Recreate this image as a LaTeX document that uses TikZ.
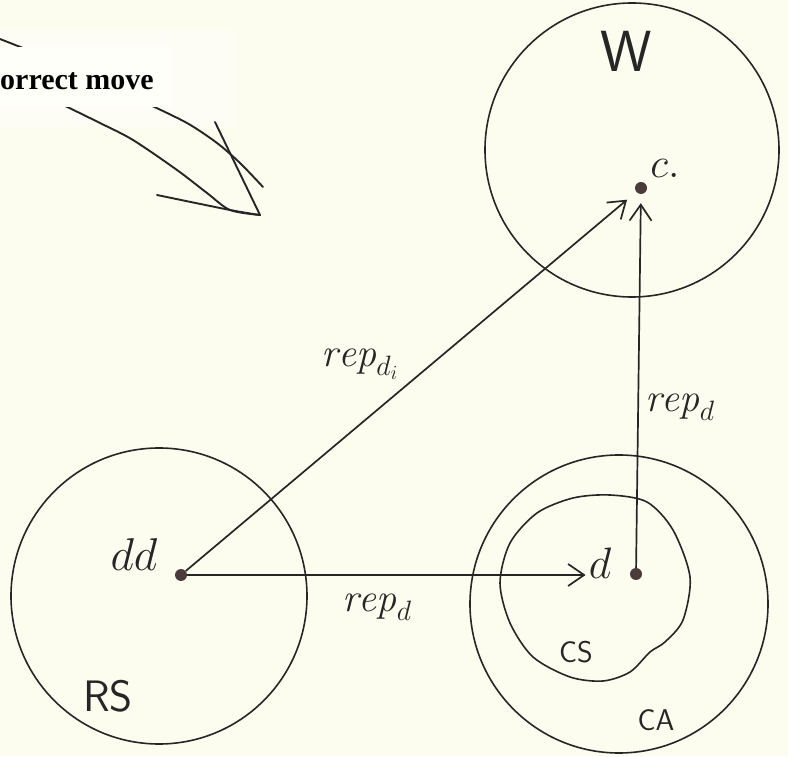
\documentclass[tikz,border=0pt]{standalone}
\usepackage{fix-cm}
\usepackage{fontspec}
\usetikzlibrary{arrows.meta}
\newfontfamily\slipfont{Liberation Serif}
\definecolor{cPaper}{HTML}{FCFCEF}
\definecolor{cPale}{HTML}{FDFDF5}
\definecolor{cSlip}{HTML}{FFFFFA}
\definecolor{cInk}{HTML}{262626}
\definecolor{cDot}{HTML}{4B3C3C}
\newcommand{\handsize}[1]{\fontsize{#1}{#1}\selectfont}

\begin{document}
\begin{tikzpicture}[x=1pt, y=1pt,
  region/.style={draw=cInk, line width=1.6pt, circle, inner sep=0pt},
  spot/.style={circle, fill=cDot, inner sep=0pt, minimum size=12pt},
  hand/.style={text=cInk, inner sep=3pt},
  caps/.style={hand, font={\sffamily\handsize{#1}}},
  rep/.style={draw=cInk, line width=1.7pt, -{Straight Barb[length=16pt, width=22pt]}},
  sketch/.style={draw=cInk, line width=1.9pt, line cap=round, line join=round}]
\useasboundingbox (0,0) rectangle (788,756);
\fill[cPaper] (0,0) rectangle (788,756);
\fill[cPale] (0,629) rectangle (235,726);
% ---- the hand-drawn arrow, partly under the pasted slip ----------------------------
\draw[sketch] (0,717) -- (28,706);
\draw[sketch] plot[smooth] coordinates {(55,655) (100,633) (133,616) (177,586) (207,563) (230,546) (260,541)};
\draw[sketch] plot[smooth] coordinates {(148,652) (187,633) (217,613) (240,593) (263,569)};
\draw[sketch] plot[smooth] coordinates {(157,561) (230,546) (260,541)};
\draw[sketch] (215,634) -- (260,541);
\fill[cSlip] (0,649) rectangle (172,709);
\node[anchor=base west, inner sep=0pt, font={\slipfont\bfseries\handsize{30}}] (move) at (0,666) {orrect move};
% ---- the regions -----------------------------------------------------------------------
\node[region, minimum size=294pt] (world) at (632,606) {};
\node[region, minimum size=296pt] (rs) at (159,160) {};
\node[region, minimum size=298pt] (ca) at (619,152) {};
\draw[draw=cInk, line width=1.6pt] plot[smooth cycle] coordinates {(610,261) (647,254) (673,226) (690,179) (683,136) (665,114) (650,104) (630,84) (603,75) (570,79) (533,99) (510,133) (500,173) (510,213) (537,243) (573,258)};
% ---- the points and their names -------------------------------------------------------
\node[spot] (dd) at (181,181) {};
\node[spot] (d) at (636,182) {};
\node[spot] (c) at (641,568) {};
\node[hand, font=\handsize{46}] (ddlab) at (134,201) {$dd$};
\node[hand, font=\handsize{44}] (dlab) at (600,193) {$d$};
\node[hand, font=\handsize{42}] (clab) at (665,588) {$c.$};
\node[caps=58] (wlab) at (626,705) {W};
\node[caps=44] (rslab) at (108,60) {RS};
\node[caps=30] (cslab) at (576,104) {CS};
\node[caps=30] (calab) at (656,36) {CA};
% ---- the maps ----------------------------------------------------------------------------
\draw[rep, shorten >=12pt] (dd) -- (c);
\draw[rep, shorten >=9pt] (d) -- (c);
\draw[rep] (dd) -- (dd -| dlab.west);
\node[hand, font=\handsize{40}] (repdi) at (360,392) {$\mathit{rep}_{d_i}$};
\node[hand, font=\handsize{40}] (repup) at (680,349) {$\mathit{rep}_d$};
\node[hand, font=\handsize{40}] (replow) at (377,149) {$\mathit{rep}_d$};
\end{tikzpicture}
\end{document}
